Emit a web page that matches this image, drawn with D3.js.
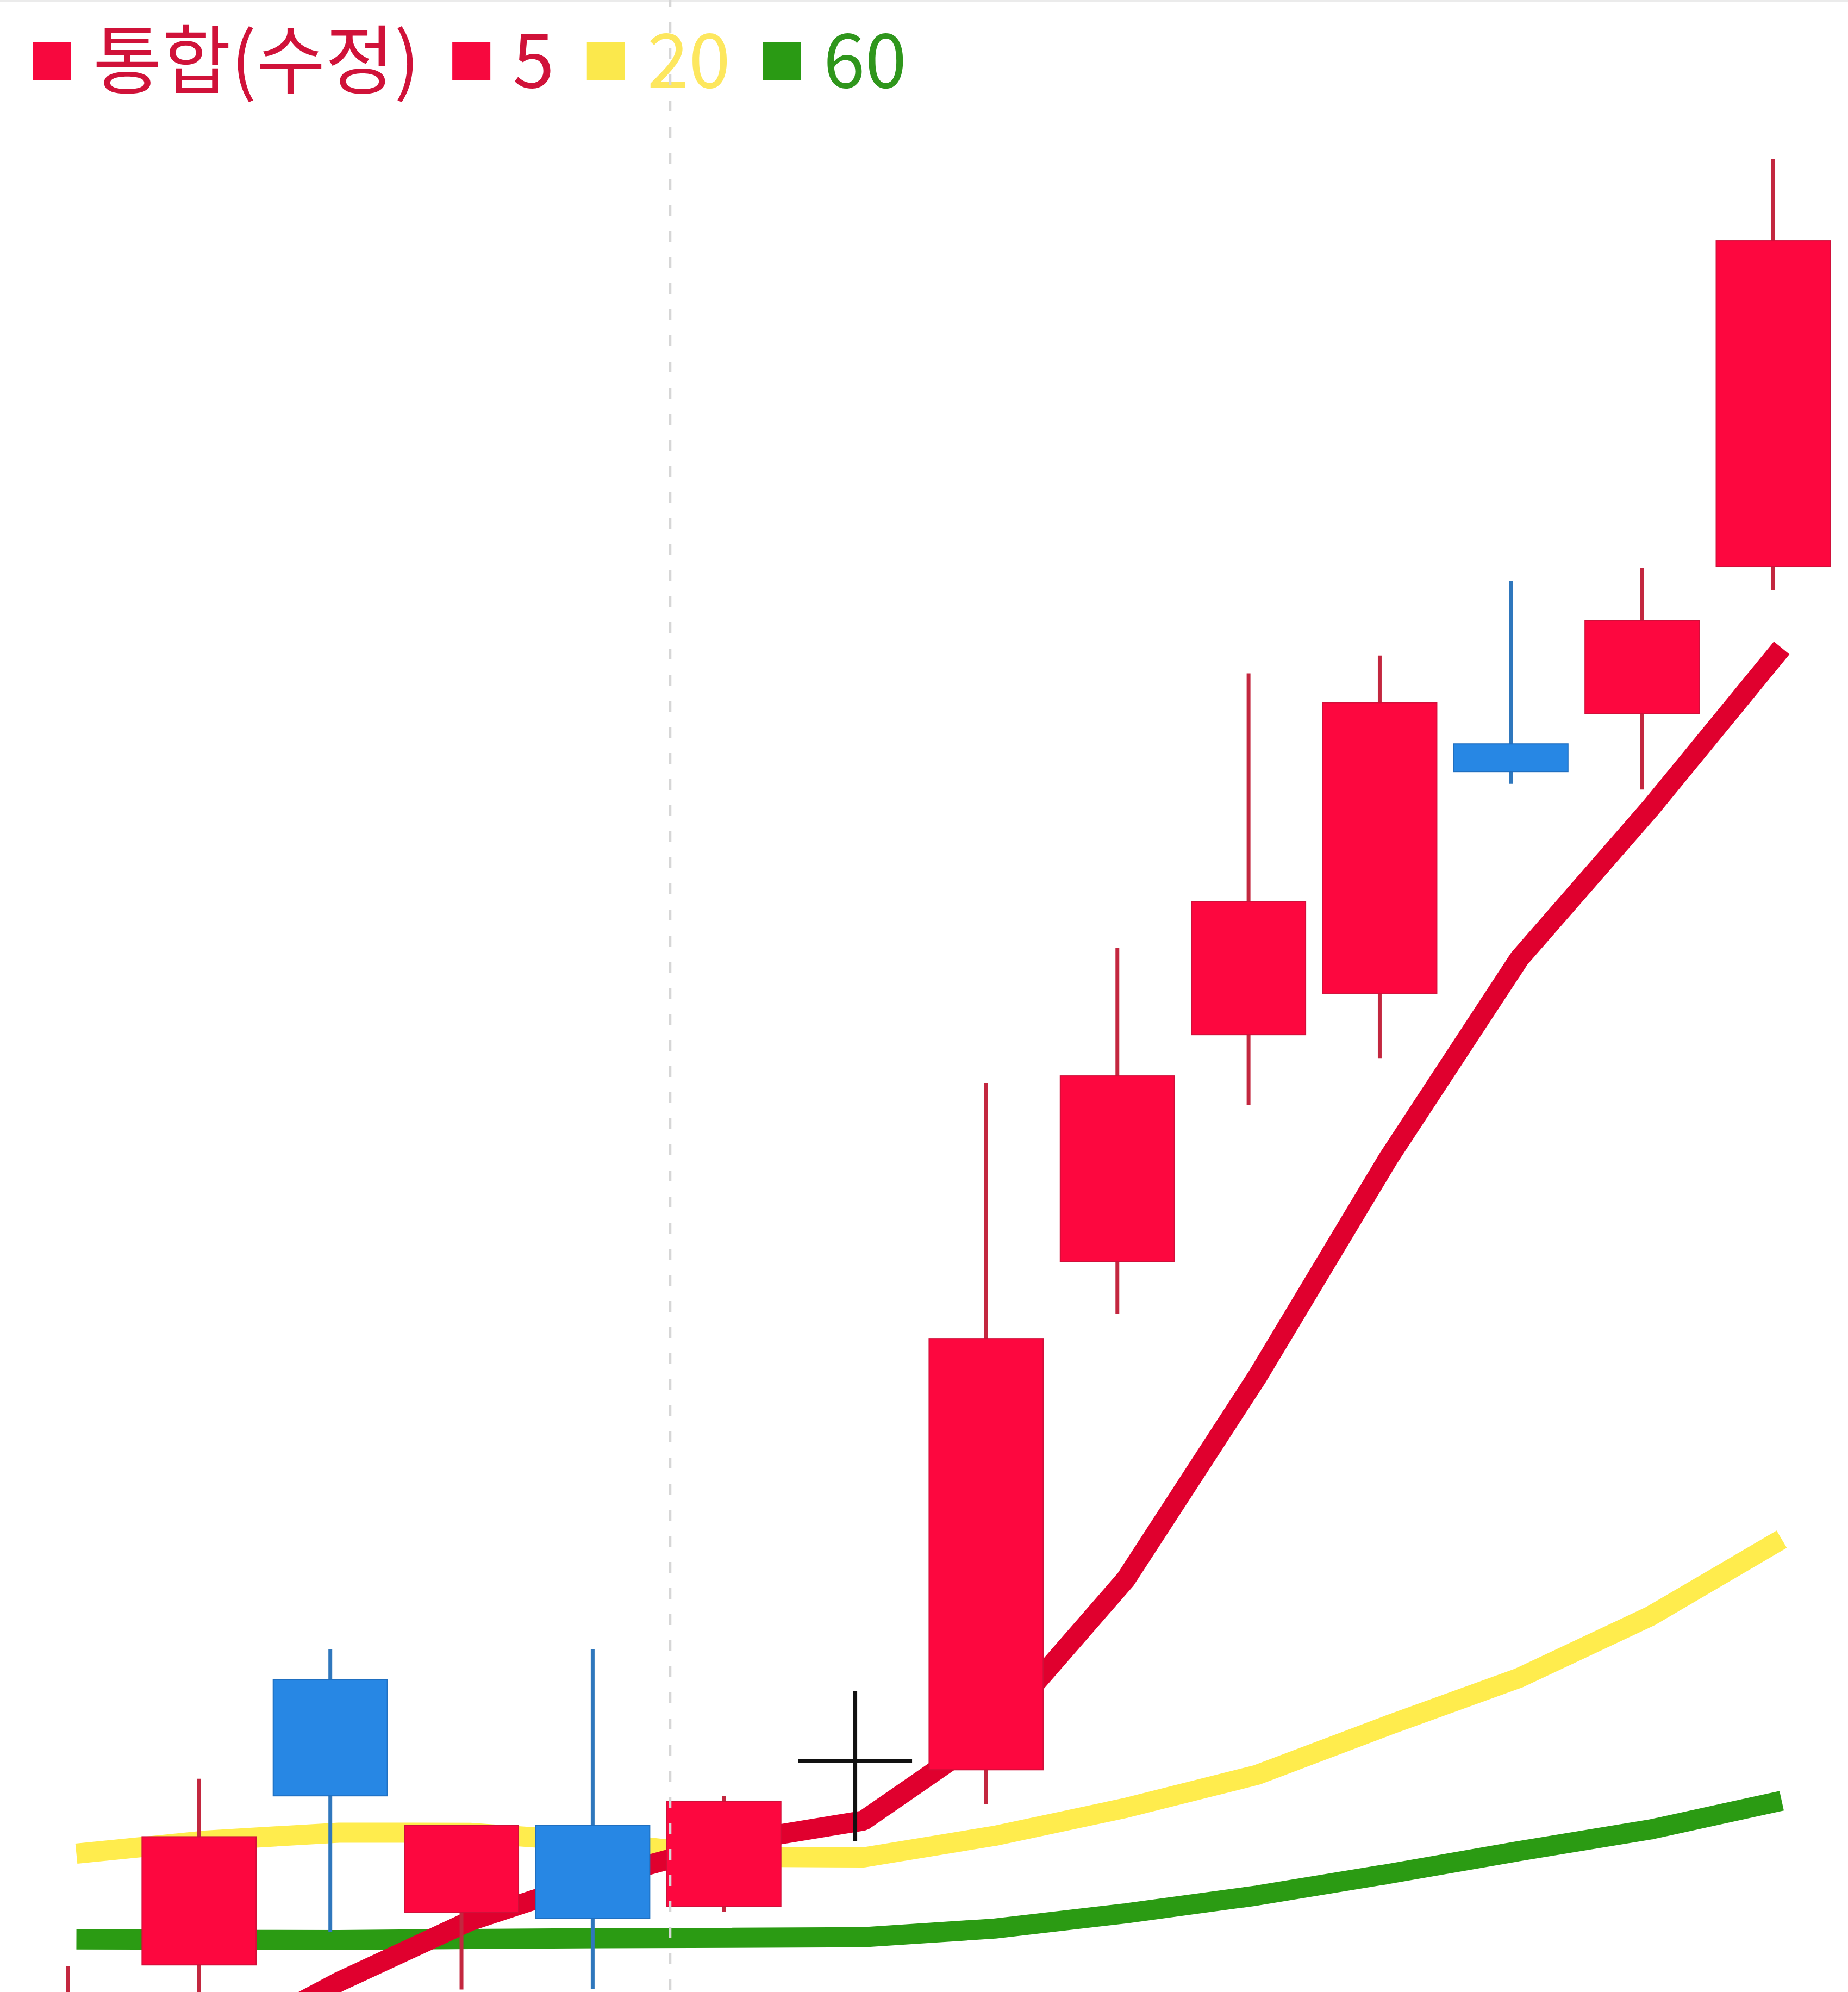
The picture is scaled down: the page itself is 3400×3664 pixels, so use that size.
<!DOCTYPE html>
<html>
<head>
<meta charset="utf-8">
<script src="https://cdn.jsdelivr.net/npm/d3@7"></script>
<style>
html, body { margin: 0; padding: 0; background: #ffffff; }
svg { display: block; }
</style>
</head>
<body>
<svg id="chart" width="3400" height="3664"></svg>
<script>
// ---- data (price units are relative) ----
const days  = ["D1","D2","D3","D4","D5","D6","D7","D8","D9","D10","D11","D12","D13","D14"];
const open  = [100,  534, 2781,  950, 1634,  996, 2140, 2070, 6068, 7856,  8182, 10145, 10385, 11541];
const close = [300, 1543, 1865, 1634,  902, 1823, 2140, 5464, 7531, 8905, 10470,  9927, 11116, 14104];
const high  = [526, 2000, 3017, 1634, 3017, 1861, 2690, 7476, 8537, 10700, 10840, 11430, 11528, 14746];
const low   = [0,    200,  795,  340,  344,  950, 1506, 1800, 5661, 7304,  7672,  9830,  9786, 11353];
const ma5   = [-600, -150,  400,  880, 1220, 1500, 1670, 2383, 3570, 5160, 6880, 8455, 9640, 10900];
const ma20  = [1410, 1514, 1575, 1574, 1500, 1385, 1380, 1550, 1770, 2030, 2420, 2794, 3280, 3885];
const ma60  = [735,  732,  730,  738,  745,  748,  752,  820,  940, 1080, 1250, 1430, 1600, 1826];
const legendLabels = ["통합(수정)", "5", "20", "60"];
const dividerAfter = 4.59;   // period boundary, in day-index units

// ---- styles ----
const W = 3400, H = 3664;
const upColor = "#fd073f", upEdge = "#d0103a", upWick = "#c3273f";
const downColor = "#2787e4", downEdge = "#1f6fc0", downWick = "#2f77bd";
const dojiColor = "#111111";
const ma5Color = "#e0002e", ma20Color = "#ffec4d", ma60Color = "#2b9b13";
const legendSquares = ["#f7083e", "#f7083e", "#fbe84c", "#2a9a14"];
const legendText = ["#d01239", "#d01239", "#fde75e", "#2f961c"];

const svg = d3.select("#chart");
svg.append("rect").attr("width", W).attr("height", H).attr("fill", "#ffffff");

const x = d3.scalePoint().domain(days).range([125, 3262.5]);
const step = x.step();
const bodyW = step * 0.87;
const maShift = 15.5;
const y = d3.scaleLinear().domain([0, 16000]).range([3739, 0]);

// top border
svg.append("line").attr("x1", 0).attr("x2", W).attr("y1", 2).attr("y2", 2)
  .attr("stroke", "#ebebeb").attr("stroke-width", 4);

// moving averages
const line = d3.line()
  .x((d, i) => x(days[i]) + maShift)
  .y(d => y(d));
const maLayer = svg.append("g");
[[ma20, ma20Color], [ma60, ma60Color], [ma5, ma5Color]].forEach(([vals, col]) => {
  maLayer.append("path").datum(vals)
    .attr("d", line)
    .attr("fill", "none")
    .attr("stroke", col)
    .attr("stroke-width", 37)
    .attr("stroke-linejoin", "bevel")
    .attr("stroke-linecap", "butt");
});

// candles
const candles = days.map((d, i) => ({ d, o: open[i], c: close[i], h: high[i], l: low[i] }));
const cg = svg.append("g").selectAll("g").data(candles).join("g");
cg.append("line")
  .attr("x1", c => x(c.d)).attr("x2", c => x(c.d))
  .attr("y1", c => y(c.h)).attr("y2", c => y(c.l))
  .attr("stroke", c => c.c > c.o ? upWick : (c.c < c.o ? downWick : dojiColor))
  .attr("stroke-width", c => c.c === c.o ? 8 : 7);
cg.filter(c => c.c !== c.o).append("rect")
  .attr("x", c => x(c.d) - bodyW / 2)
  .attr("width", bodyW)
  .attr("y", c => y(Math.max(c.o, c.c)))
  .attr("height", c => y(Math.min(c.o, c.c)) - y(Math.max(c.o, c.c)))
  .attr("fill", c => c.c > c.o ? upColor : downColor)
  .attr("stroke", c => c.c > c.o ? upEdge : downEdge)
  .attr("stroke-width", 2);
cg.filter(c => c.c === c.o).append("line")
  .attr("x1", c => x(c.d) - bodyW / 2).attr("x2", c => x(c.d) + bodyW / 2)
  .attr("y1", c => y(c.o)).attr("y2", c => y(c.o))
  .attr("stroke", dojiColor).attr("stroke-width", 8);

// legend
const lg = svg.append("g").attr("font-family", "'Noto Sans CJK KR', 'Noto Sans', sans-serif")
  .attr("font-size", 138);
let lx = 60;
legendLabels.forEach((lab, i) => {
  lg.append("rect").attr("x", lx).attr("y", 77).attr("width", 70).attr("height", 70)
    .attr("fill", legendSquares[i]);
  lx += 70 + 41;
  const t = lg.append("text").attr("x", lx).attr("y", 161)
    .attr("fill", legendText[i]).text(lab);
  lx += t.node().getComputedTextLength() + 60;
});

// period divider
const dx = x(days[0]) + dividerAfter * step;
svg.append("line").attr("x1", dx).attr("x2", dx).attr("y1", 0).attr("y2", H)
  .attr("stroke", "#d6d6d6").attr("stroke-width", 5)
  .attr("stroke-dasharray", "20,28").attr("stroke-dashoffset", 7);
</script>
</body>
</html>
